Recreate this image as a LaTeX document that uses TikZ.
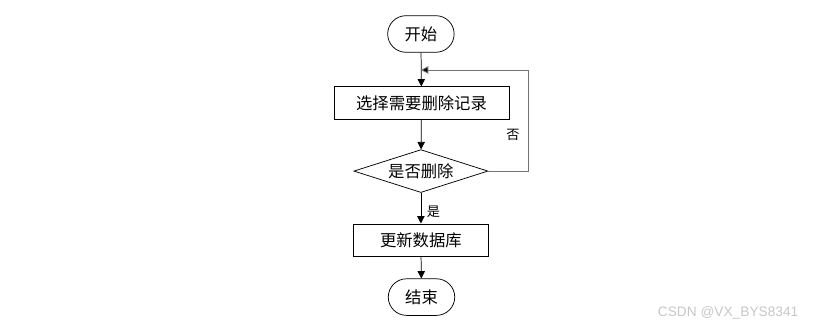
\documentclass[tikz,border=0pt]{standalone}
\usepackage{fontspec}
\newfontfamily\cjk{Noto Sans CJK SC}
\setsansfont{Liberation Sans}
\usetikzlibrary{shapes.geometric,shapes.misc,arrows.meta}

\tikzset{
  terminal/.style={draw, rounded rectangle, line width=0.7pt,
    minimum width=2.45cm, minimum height=1.22cm, font=\cjk\fontsize{15.5}{17}\selectfont},
  process/.style={draw, rectangle, line width=0.7pt,
    minimum height=1.08cm, font=\cjk\fontsize{15.5}{17}\selectfont},
  decision/.style={draw, diamond, aspect=3.1, inner sep=1pt, line width=0.7pt,
    minimum width=4.47cm, minimum height=1.43cm, font=\cjk\fontsize{15.5}{17}\selectfont},
  flow/.style={line width=0.7pt, -{Triangle[width=7pt,length=7pt]}},
  lbl/.style={font=\cjk\fontsize{12.5}{14}\selectfont}
}

\begin{document}
\begin{tikzpicture}

\useasboundingbox (0,0) rectangle (27.4,10.933);

% Noeuds
\node[terminal] (start) at (14.03,9.80) {开始};
\node[process, minimum width=5.83cm] (select) at (14.05,7.50) {选择需要删除记录};
\node[decision] (ask) at (14.03,5.23) {是否删除};
\node[process, minimum width=4.53cm] (update) at (14.03,2.93) {更新数据库};
\node[terminal] (stop) at (14.05,1.03) {结束};

% Retour
\coordinate (loopright) at (17.63,5.23);
\coordinate (looptop) at (17.63,8.6);
\coordinate (loopin) at (14.03,8.6);

% Liaisons
\draw[flow] (start) -- (select);
\draw[flow] (select) -- (ask);
\draw[flow] (ask) -- (update);
\draw[flow] (update) -- (stop);
\draw[line width=0.9pt, draw=black!55, -{Triangle[width=7pt,length=7pt,fill=black]}]
  (ask.east) -- (loopright) -- (looptop) -- (loopin);

\node[lbl] (no) at (17.1,6.43) {否};
\node[lbl] (yes) at (14.45,3.87) {是};

% Filigrane
\node[font=\sffamily\fontsize{13}{15}\selectfont, text=black!22] (mark) at (24.27,0.5) {CSDN @VX\_BYS8341};

\end{tikzpicture}
\end{document}
